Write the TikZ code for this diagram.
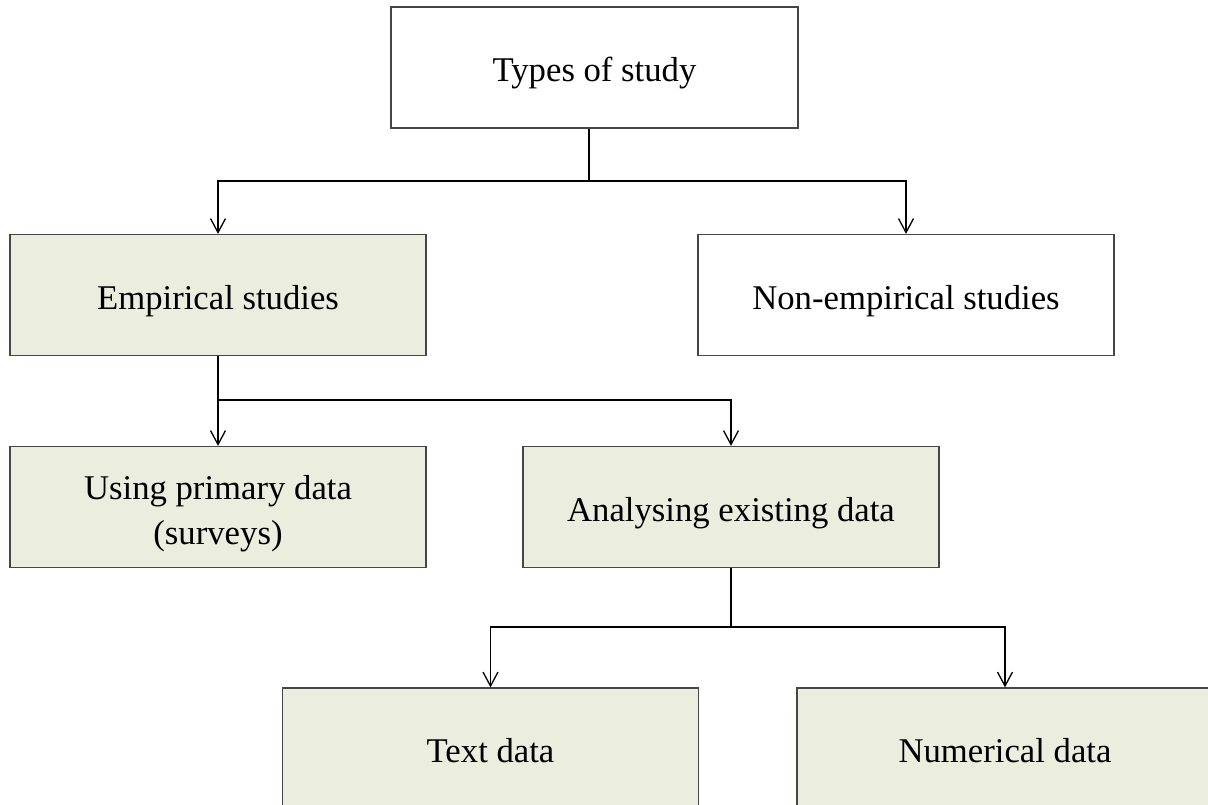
\documentclass[tikz,border=0pt]{standalone}
\usepackage{fontspec}
\setmainfont{Liberation Serif}
\usetikzlibrary{arrows.meta}
\definecolor{boxgreen}{RGB}{235,238,222}
\definecolor{boxline}{RGB}{70,70,70}

\begin{document}
\begin{tikzpicture}[x=1pt, y=-1pt, line width=1.4pt,
>={Straight Barb[length=14pt,width=15pt,line width=1.3pt]},
box/.style={draw=boxline, line width=1.2pt, minimum width=416pt, minimum height=121pt,
  align=center, font=\fontsize{34.7}{45}\selectfont},
oneline/.style={text height=36pt, text depth=8pt},
greenbox/.style={box, fill=boxgreen}]
\useasboundingbox (0,0) rectangle (1208,805);
\node[box, oneline, minimum width=407pt] (types) at (594.5,67.5) {Types of study};
\node[greenbox, oneline] (emp) at (218,295) {Empirical studies};
\node[box, oneline] (nonemp) at (906,295) {Non-empirical studies};
\node[greenbox] (primary) at (218,507) {\rule{0pt}{38pt}Using primary data\\(surveys)};
\node[greenbox, oneline] (existing) at (731,507) {Analysing existing data};
\node[greenbox, oneline] (textdata) at (490.5,748.5) {Text data};
\node[greenbox, oneline] (numdata) at (1005,748.5) {Numerical data};
\coordinate (split1) at (589,181);
\coordinate (split2) at (218,400);
\coordinate (split3) at (731,627);
\draw (types.south -| split1) -- (split1);
\draw[->] (split1) -| (emp.north);
\draw[->] (split1) -| (nonemp.north);
\draw (emp.south) -- (split2);
\draw[->] (split2) -- (primary.north);
\draw[->] (split2) -| (existing.north);
\draw (existing.south) -- (split3);
\draw[->] (split3) -| (textdata.north);
\draw[->] (split3) -| (numdata.north);
\end{tikzpicture}
\end{document}
